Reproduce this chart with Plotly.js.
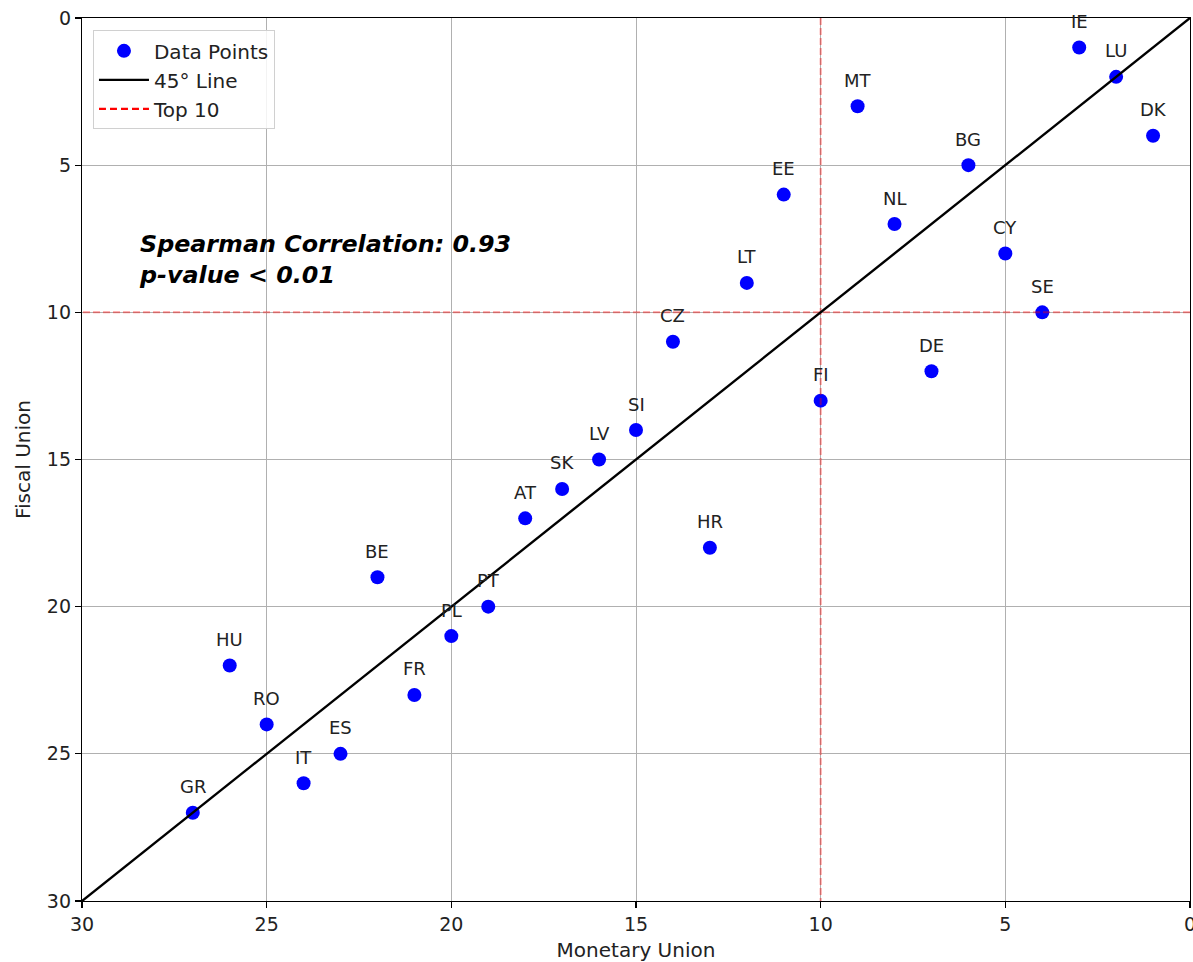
<!DOCTYPE html>
<html>
<head>
<meta charset="utf-8">
<script src="https://cdn.plot.ly/plotly-3.0.1.min.js"></script>
<style>html,body{margin:0;padding:0;background:#fff;}#chart{width:1193px;height:962px;}</style>
</head>
<body>
<div id="chart"></div>
<script>
const countries = ["IE","LU","DK","MT","BG","EE","NL","CY","LT","SE","CZ","DE","FI","SI","LV","SK","AT","HR","BE","PT","PL","HU","FR","RO","ES","IT","GR"];
const monetaryRank = [3,2,1,9,6,11,8,5,12,4,14,7,10,15,16,17,18,13,22,19,20,26,21,25,23,24,27];
const fiscalRank  = [1,2,4,3,5,6,7,8,9,10,11,12,13,14,15,16,17,18,19,20,21,22,23,24,25,26,27];
const diagLine = [0, 30];
const topN = 10;
const axisRange = [30, 0];
const tickVals = [0,5,10,15,20,25,30];
const statsText = "Spearman Correlation: 0.93<br>p-value < 0.01";

const FONT = "DejaVu Sans, Verdana, sans-serif";

const traces = [
  {
    type: "scatter", mode: "markers", name: "Data Points",
    x: monetaryRank, y: fiscalRank,
    marker: {color: "#0000ff", size: 14},
    hoverinfo: "skip", cliponaxis: false, legendrank: 1
  },
  {
    type: "scatter", mode: "lines", name: "Top 10",
    x: [topN, topN], y: diagLine,
    line: {color: "rgba(255,0,0,0.4)", width: 2, dash: "7px,3px"},
    showlegend: false, hoverinfo: "skip"
  },
  {
    type: "scatter", mode: "lines", name: "Top 10",
    x: diagLine, y: [topN, topN],
    line: {color: "rgba(255,0,0,0.4)", width: 2, dash: "7px,3px"},
    showlegend: false, hoverinfo: "skip"
  },
  {
    type: "scatter", mode: "lines", name: "45° Line",
    x: diagLine, y: diagLine,
    line: {color: "#000000", width: 2.4},
    hoverinfo: "skip", legendrank: 2
  },
  {
    type: "scatter", mode: "lines", name: "Top 10",
    x: [null], y: [null],
    line: {color: "#ff0000", width: 2.4, dash: "7px,4px"},
    hoverinfo: "skip", legendrank: 3
  }
];

const annotations = countries.map((c, i) => ({
  x: monetaryRank[i], y: fiscalRank[i], xref: "x", yref: "y",
  text: c, showarrow: false, yshift: 26, xanchor: "center", yanchor: "middle",
  font: {family: FONT, size: 18, color: "#222"}
}));
annotations.push({
  xref: "paper", yref: "paper", x: 0.05, y: 0.727,
  xanchor: "left", yanchor: "middle", align: "left", showarrow: false,
  text: statsText,
  font: {family: FONT, size: 23.8, color: "#000", weight: "bold", style: "italic"}
});

const axisCommon = {
  range: axisRange, tickvals: tickVals, ticktext: tickVals.map(String),
  showgrid: true, gridcolor: "#b0b0b0", gridwidth: 1,
  zeroline: false, showline: true, linecolor: "#000", linewidth: 1.2, mirror: true,
  ticks: "outside", ticklen: 6, tickcolor: "#000", tickwidth: 1.2,
  ticklabeloverflow: "allow",
  tickfont: {family: FONT, size: 19, color: "#222"}
};

const layout = {
  width: 1193, height: 962,
  margin: {l: 82, r: 3, t: 18, b: 61},
  paper_bgcolor: "#fff", plot_bgcolor: "#fff",
  showlegend: true,
  font: {family: FONT, color: "#222"},
  xaxis: Object.assign({}, axisCommon, {
    title: {text: "Monetary Union", font: {family: FONT, size: 20, color: "#222"}, standoff: 9}
  }),
  yaxis: Object.assign({}, axisCommon, {
    title: {text: "Fiscal Union", font: {family: FONT, size: 20, color: "#222"}, standoff: 10}
  }),
  legend: {
    x: 0.0099, y: 0.986, xanchor: "left", yanchor: "top",
    bgcolor: "rgba(255,255,255,0.85)", bordercolor: "#d0d0d0", borderwidth: 1,
    font: {family: FONT, size: 20, color: "#222"},
    tracegroupgap: 0, itemwidth: 50
  },
  annotations: annotations
};

Plotly.newPlot("chart", traces, layout, {displayModeBar: false, staticPlot: true});
</script>
</body>
</html>
